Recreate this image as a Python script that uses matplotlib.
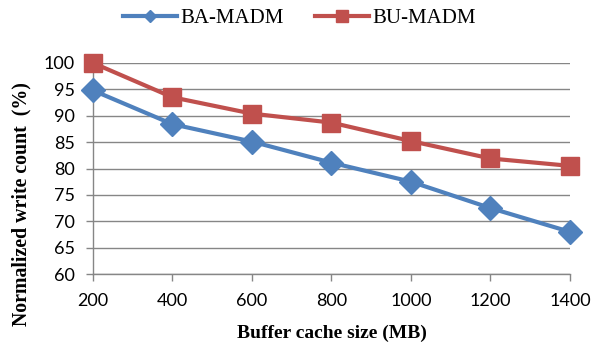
import matplotlib
matplotlib.use("Agg")
import matplotlib.pyplot as plt
from matplotlib.lines import Line2D
import numpy as np

##########################

cache_mb = [200, 400, 600, 800, 1000, 1200, 1400]
ba_madm = [94.8, 88.4, 85.1, 81.1, 77.5, 72.5, 68.0]
bu_madm = [100.0, 93.5, 90.4, 88.7, 85.2, 81.9, 80.5]

yticks = np.arange(60, 101, 5)

blue = "#4F81BD"
red = "#C0504D"
grid_col = "#868686"

##########################

fig = plt.figure(figsize=(6.05, 3.48), dpi=100)
ax = fig.add_axes([0.1537, 0.2126, 0.7883, 0.6064])

ax.plot(cache_mb, ba_madm, color=blue, lw=3, marker="D", ms=12,
        clip_on=False, zorder=3)
ax.plot(cache_mb, bu_madm, color=red, lw=3, marker="s", ms=13,
        clip_on=False, zorder=3)

ax.set_xlim(200, 1400)
ax.set_ylim(60, 100)
ax.set_xticks(cache_mb)
ax.set_yticks(yticks)
ax.yaxis.grid(True, color=grid_col, lw=1)
ax.set_axisbelow(True)

for s in ["top", "right"]:
    ax.spines[s].set_visible(False)
for s in ["left", "bottom"]:
    ax.spines[s].set_color(grid_col)
    ax.spines[s].set_linewidth(1)

ax.tick_params(axis="both", direction="out", color=grid_col, length=5, width=1,
               labelsize=13)
ax.tick_params(axis="y", pad=8)
ax.tick_params(axis="x", pad=9)
for lab in ax.get_xticklabels() + ax.get_yticklabels():
    lab.set_family("Lato")

ax.set_xlabel("Buffer cache size (MB)", family="Liberation Serif",
              fontweight="bold", fontsize=14)
ax.xaxis.set_label_coords(0.5, -0.24)
ax.set_ylabel("Normalized write count  (%)", family="Liberation Serif",
              fontweight="bold", fontsize=14.3)
ax.yaxis.set_label_coords(-0.128, 0.33)

# legend with small markers on the handles
handles = [Line2D([], [], color=blue, lw=3, marker="D", ms=6),
           Line2D([], [], color=red, lw=3, marker="s", ms=8)]
fig.legend(handles, ["BA-MADM", "BU-MADM"], loc="upper center",
           bbox_to_anchor=(0.495, 1.03), ncol=2, frameon=False,
           prop={"family": "Liberation Serif", "size": 15},
           handlelength=2.6, columnspacing=1.5, handletextpad=0.15)

plt.savefig("out.png", dpi=100)
plt.close()
